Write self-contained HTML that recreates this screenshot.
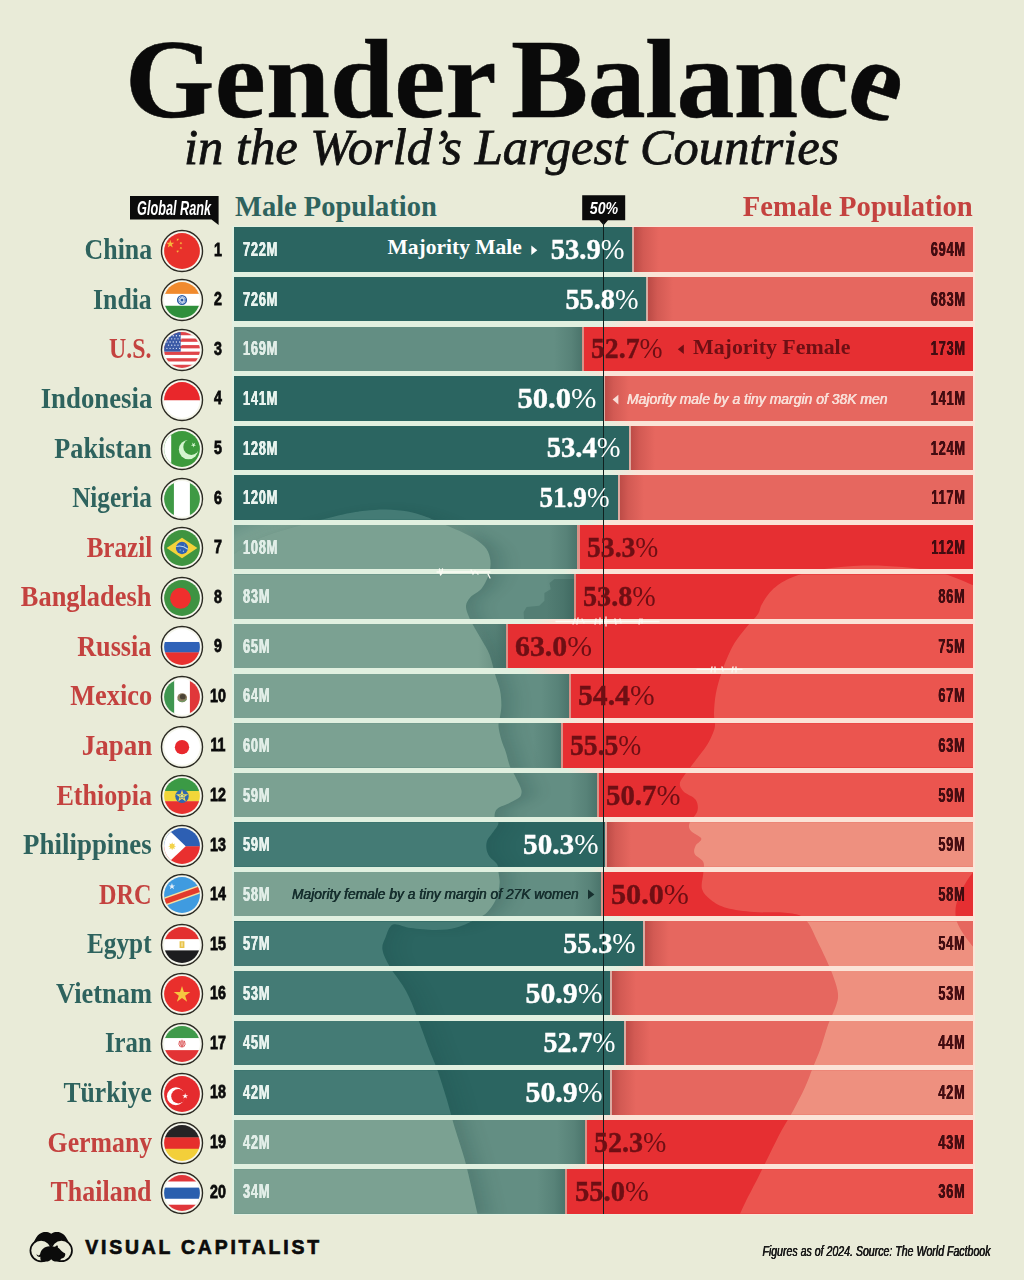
<!DOCTYPE html>
<html lang="en"><head><meta charset="utf-8"><title>Gender Balance in the World's Largest Countries</title>
<style>
html,body{margin:0;padding:0;}
body{width:1024px;height:1280px;background:#e9ebd8;position:relative;overflow:hidden;font-family:"Liberation Serif",serif;font-weight:700;}
.t{position:absolute;white-space:nowrap;line-height:1;}
.b{position:absolute;}
svg{position:absolute;left:0;top:0;overflow:visible;}
.pc{font-weight:400;-webkit-text-stroke:0;}
.v{text-shadow:.22px 0 0 currentColor,-.22px 0 0 currentColor;letter-spacing:1.2px;}
.n{text-shadow:.3px 0 0 currentColor,-.3px 0 0 currentColor;}
.s{font-family:"Liberation Sans",sans-serif;}
</style></head><body>

<div class="t" style="left:125.2px;top:22px;font-size:113px;color:#0a0a0a;-webkit-text-stroke:0.5px #0a0a0a;letter-spacing:0.2px;transform-origin:0 50%;transform:scaleX(1.018);">Gender</div>
<div class="t" style="left:510.9px;top:22px;font-size:113px;color:#0a0a0a;-webkit-text-stroke:0.5px #0a0a0a;letter-spacing:-0.6px;transform-origin:0 50%;transform:scaleX(1.025);">Balanc<span style="display:inline-block;transform:translate(-1.8px,0px) rotate(19deg);transform-origin:50% 68%;">e</span></div>
<div class="t" style="top:121.69px;font-size:51px;color:#111;font-weight:400;font-style:italic;left:183.60px;transform-origin:0 50%;transform:scaleX(0.991);-webkit-text-stroke:.8px #111;">in the World’s Largest Countries</div>
<div class="t" style="top:193.33px;font-size:28.5px;color:#2e635e;left:235.00px;transform-origin:0 50%;">Male Population</div>
<div class="t" style="top:193.43px;font-size:28.5px;color:#c4423f;right:51.00px;transform-origin:100% 50%;transform:scaleX(1.005);">Female Population</div>
<svg width="1024" height="1280" viewBox="0 0 1024 1280"><path d="M130 196H218.6V225L211.5 219.5H130Z" fill="#0b0b0b"/><path d="M582.2 195.2H625.2V220.2H608L603.6 225.2L599.2 220.2H582.2Z" fill="#0b0b0b"/></svg>
<div class="t s" style="top:198.79px;font-size:19.5px;color:#fff;font-style:italic;left:-26.10px;width:400px;text-align:center;transform-origin:50% 50%;transform:scaleX(0.65);">Global Rank</div>
<div class="t s" style="top:199.83px;font-size:16.5px;color:#fff;font-style:italic;left:403.70px;width:400px;text-align:center;transform-origin:50% 50%;transform:scaleX(0.86);">50%</div>
<div class="b" style="left:232.4px;top:225.8px;width:742.9px;height:989.58px;background:linear-gradient(90deg,#e3f1e2 0,#e3f1e2 50%,#fbe6da 53%,#fbe6da 100%);"></div>
<div class="b" style="left:234.0px;top:227.40px;width:398.59px;height:44.45px;background:#2b6561;"></div>
<div class="b" style="left:632.59px;top:227.40px;width:340.91px;height:44.45px;background:#e6675f;"></div>
<div class="b" style="left:234.0px;top:276.98px;width:412.64px;height:44.45px;background:#2b6561;"></div>
<div class="b" style="left:646.64px;top:276.98px;width:326.86px;height:44.45px;background:#e6675f;"></div>
<div class="b" style="left:234.0px;top:326.55px;width:349.78px;height:44.45px;background:#638e83;"></div>
<div class="b" style="left:583.78px;top:326.55px;width:389.72px;height:44.45px;background:#e62f32;"></div>
<div class="b" style="left:234.0px;top:376.12px;width:369.20px;height:44.45px;background:#2b6561;"></div>
<div class="b" style="left:603.20px;top:376.12px;width:370.30px;height:44.45px;background:#e6675f;"></div>
<div class="b" style="left:234.0px;top:425.70px;width:394.89px;height:44.45px;background:#2b6561;"></div>
<div class="b" style="left:628.89px;top:425.70px;width:344.61px;height:44.45px;background:#e6675f;"></div>
<div class="b" style="left:234.0px;top:475.27px;width:383.80px;height:44.45px;background:#2b6561;"></div>
<div class="b" style="left:617.80px;top:475.27px;width:355.70px;height:44.45px;background:#e6675f;"></div>
<div class="b" style="left:234.0px;top:524.85px;width:345.35px;height:44.45px;background:#638e83;"></div>
<div class="b" style="left:579.35px;top:524.85px;width:394.15px;height:44.45px;background:#e62f32;"></div>
<div class="b" style="left:234.0px;top:574.43px;width:341.65px;height:44.45px;background:#638e83;"></div>
<div class="b" style="left:575.65px;top:574.43px;width:397.85px;height:44.45px;background:#e62f32;"></div>
<div class="b" style="left:234.0px;top:624.00px;width:273.62px;height:44.45px;background:#638e83;"></div>
<div class="b" style="left:507.62px;top:624.00px;width:465.88px;height:44.45px;background:#e62f32;"></div>
<div class="b" style="left:234.0px;top:673.58px;width:337.21px;height:44.45px;background:#638e83;"></div>
<div class="b" style="left:571.21px;top:673.58px;width:402.29px;height:44.45px;background:#e62f32;"></div>
<div class="b" style="left:234.0px;top:723.15px;width:329.08px;height:44.45px;background:#638e83;"></div>
<div class="b" style="left:563.08px;top:723.15px;width:410.42px;height:44.45px;background:#e62f32;"></div>
<div class="b" style="left:234.0px;top:772.73px;width:364.57px;height:44.45px;background:#638e83;"></div>
<div class="b" style="left:598.57px;top:772.73px;width:374.93px;height:44.45px;background:#e62f32;"></div>
<div class="b" style="left:234.0px;top:822.30px;width:370.90px;height:44.45px;background:#2b6561;"></div>
<div class="b" style="left:604.90px;top:822.30px;width:368.60px;height:44.45px;background:#e6675f;"></div>
<div class="b" style="left:234.0px;top:871.88px;width:369.20px;height:44.45px;background:#638e83;"></div>
<div class="b" style="left:603.20px;top:871.88px;width:370.30px;height:44.45px;background:#e62f32;"></div>
<div class="b" style="left:234.0px;top:921.45px;width:408.94px;height:44.45px;background:#2b6561;"></div>
<div class="b" style="left:642.94px;top:921.45px;width:330.56px;height:44.45px;background:#e6675f;"></div>
<div class="b" style="left:234.0px;top:971.02px;width:376.41px;height:44.45px;background:#2b6561;"></div>
<div class="b" style="left:610.41px;top:971.02px;width:363.09px;height:44.45px;background:#e6675f;"></div>
<div class="b" style="left:234.0px;top:1020.60px;width:389.72px;height:44.45px;background:#2b6561;"></div>
<div class="b" style="left:623.72px;top:1020.60px;width:349.78px;height:44.45px;background:#e6675f;"></div>
<div class="b" style="left:234.0px;top:1070.18px;width:376.41px;height:44.45px;background:#2b6561;"></div>
<div class="b" style="left:610.41px;top:1070.18px;width:363.09px;height:44.45px;background:#e6675f;"></div>
<div class="b" style="left:234.0px;top:1119.75px;width:352.74px;height:44.45px;background:#638e83;"></div>
<div class="b" style="left:586.74px;top:1119.75px;width:386.76px;height:44.45px;background:#e62f32;"></div>
<div class="b" style="left:234.0px;top:1169.33px;width:332.77px;height:44.45px;background:#638e83;"></div>
<div class="b" style="left:566.77px;top:1169.33px;width:406.73px;height:44.45px;background:#e62f32;"></div>
<svg width="1024" height="1280" viewBox="0 0 1024 1280"><defs><clipPath id="fc"><circle r="17.9"/></clipPath><clipPath id="mD"><rect x="234.0" y="227.40" width="398.59" height="44.45"/><rect x="234.0" y="276.98" width="412.64" height="44.45"/><rect x="234.0" y="376.12" width="369.20" height="44.45"/><rect x="234.0" y="425.70" width="394.89" height="44.45"/><rect x="234.0" y="475.27" width="383.80" height="44.45"/><rect x="234.0" y="822.30" width="370.90" height="44.45"/><rect x="234.0" y="921.45" width="408.94" height="44.45"/><rect x="234.0" y="971.02" width="376.41" height="44.45"/><rect x="234.0" y="1020.60" width="389.72" height="44.45"/><rect x="234.0" y="1070.18" width="376.41" height="44.45"/></clipPath><clipPath id="mL"><rect x="234.0" y="326.55" width="349.78" height="44.45"/><rect x="234.0" y="524.85" width="345.35" height="44.45"/><rect x="234.0" y="574.43" width="341.65" height="44.45"/><rect x="234.0" y="624.00" width="273.62" height="44.45"/><rect x="234.0" y="673.58" width="337.21" height="44.45"/><rect x="234.0" y="723.15" width="329.08" height="44.45"/><rect x="234.0" y="772.73" width="364.57" height="44.45"/><rect x="234.0" y="871.88" width="369.20" height="44.45"/><rect x="234.0" y="1119.75" width="352.74" height="44.45"/><rect x="234.0" y="1169.33" width="332.77" height="44.45"/></clipPath><clipPath id="mA"><rect x="234.0" y="227.40" width="398.59" height="44.45"/><rect x="234.0" y="276.98" width="412.64" height="44.45"/><rect x="234.0" y="376.12" width="369.20" height="44.45"/><rect x="234.0" y="425.70" width="394.89" height="44.45"/><rect x="234.0" y="475.27" width="383.80" height="44.45"/><rect x="234.0" y="822.30" width="370.90" height="44.45"/><rect x="234.0" y="921.45" width="408.94" height="44.45"/><rect x="234.0" y="971.02" width="376.41" height="44.45"/><rect x="234.0" y="1020.60" width="389.72" height="44.45"/><rect x="234.0" y="1070.18" width="376.41" height="44.45"/><rect x="234.0" y="326.55" width="349.78" height="44.45"/><rect x="234.0" y="524.85" width="345.35" height="44.45"/><rect x="234.0" y="574.43" width="341.65" height="44.45"/><rect x="234.0" y="624.00" width="273.62" height="44.45"/><rect x="234.0" y="673.58" width="337.21" height="44.45"/><rect x="234.0" y="723.15" width="329.08" height="44.45"/><rect x="234.0" y="772.73" width="364.57" height="44.45"/><rect x="234.0" y="871.88" width="369.20" height="44.45"/><rect x="234.0" y="1119.75" width="352.74" height="44.45"/><rect x="234.0" y="1169.33" width="332.77" height="44.45"/></clipPath><clipPath id="fS"><rect x="632.59" y="227.40" width="340.91" height="44.45"/><rect x="646.64" y="276.98" width="326.86" height="44.45"/><rect x="603.20" y="376.12" width="370.30" height="44.45"/><rect x="628.89" y="425.70" width="344.61" height="44.45"/><rect x="617.80" y="475.27" width="355.70" height="44.45"/><rect x="604.90" y="822.30" width="368.60" height="44.45"/><rect x="642.94" y="921.45" width="330.56" height="44.45"/><rect x="610.41" y="971.02" width="363.09" height="44.45"/><rect x="623.72" y="1020.60" width="349.78" height="44.45"/><rect x="610.41" y="1070.18" width="363.09" height="44.45"/></clipPath><clipPath id="fB"><rect x="583.78" y="326.55" width="389.72" height="44.45"/><rect x="579.35" y="524.85" width="394.15" height="44.45"/><rect x="575.65" y="574.43" width="397.85" height="44.45"/><rect x="507.62" y="624.00" width="465.88" height="44.45"/><rect x="571.21" y="673.58" width="402.29" height="44.45"/><rect x="563.08" y="723.15" width="410.42" height="44.45"/><rect x="598.57" y="772.73" width="374.93" height="44.45"/><rect x="603.20" y="871.88" width="370.30" height="44.45"/><rect x="586.74" y="1119.75" width="386.76" height="44.45"/><rect x="566.77" y="1169.33" width="406.73" height="44.45"/></clipPath><path id="ms" d="M234.0 554.0C238.2 551.4 248.4 543.3 259.0 538.6C269.6 533.9 283.5 530.0 297.5 526.0C311.5 522.0 331.8 517.0 343.0 514.5C354.2 512.0 357.8 511.7 365.0 510.8C372.2 509.9 378.8 509.3 386.0 509.4C393.2 509.5 401.7 510.4 408.0 511.5C414.3 512.6 418.5 514.1 424.0 516.0C429.5 517.9 433.7 519.8 441.0 523.0C448.3 526.2 460.8 531.2 468.0 535.0C475.2 538.8 480.3 542.2 484.0 546.0C487.7 549.8 489.1 553.7 490.0 558.0C490.9 562.3 490.8 567.0 489.5 572.0C488.2 577.0 485.1 583.8 482.0 588.0C478.9 592.2 473.3 594.0 470.6 597.0C467.9 600.0 466.3 602.7 466.0 606.0C465.7 609.3 467.7 613.7 469.0 617.0C470.3 620.3 471.4 622.1 473.6 626.0C475.8 629.9 479.3 635.8 482.0 640.6C484.7 645.4 487.4 649.1 489.7 655.0C491.9 660.9 493.8 670.0 495.5 675.8C497.2 681.6 499.0 685.1 500.0 690.0C501.0 694.9 501.4 700.5 501.4 705.0C501.4 709.5 500.5 713.5 500.0 717.0C499.5 720.5 498.3 722.2 498.5 726.0C498.7 729.8 500.2 735.7 501.4 740.0C502.6 744.3 504.4 747.6 505.8 752.0C507.2 756.4 508.5 762.8 510.0 766.6C511.5 770.4 512.9 771.6 514.6 775.0C516.3 778.4 519.2 784.0 520.4 787.0C521.5 790.0 521.8 791.2 521.5 793.0C521.2 794.8 521.1 796.2 518.7 798.0C516.3 799.8 510.9 802.2 507.3 804.0C503.7 805.8 499.1 806.8 497.0 809.0C494.9 811.2 494.4 814.6 494.6 817.0C494.8 819.4 498.8 820.7 498.4 823.5C498.0 826.3 493.9 830.7 492.0 833.6C490.1 836.5 487.9 838.4 487.0 841.0C486.1 843.6 486.1 846.4 486.5 849.0C486.9 851.6 487.8 854.0 489.5 856.5C491.2 859.0 495.5 861.5 497.0 864.0C498.5 866.5 497.9 868.7 498.4 871.7C498.8 874.7 499.7 878.6 499.7 882.0C499.7 885.4 499.2 888.7 498.4 892.0C497.5 895.3 496.5 898.6 494.6 902.0C492.7 905.4 490.0 909.6 487.0 912.4C484.0 915.2 481.9 916.2 476.8 918.7C471.7 921.2 463.3 925.7 456.5 927.6C449.7 929.5 443.6 929.9 436.0 930.0C428.4 930.1 418.0 928.9 410.8 928.0C403.6 927.1 397.2 922.9 393.0 924.5C388.8 926.1 387.1 933.5 385.4 937.8C383.6 942.0 381.7 945.1 382.5 950.0C383.3 954.9 386.1 960.2 390.0 967.0C393.9 973.8 401.4 982.5 406.0 991.0C410.6 999.5 413.8 1008.3 417.6 1018.0C421.4 1027.7 425.8 1040.5 429.0 1049.0C432.2 1057.5 434.0 1060.5 437.0 1069.0C440.0 1077.5 444.1 1090.2 447.0 1100.0C449.9 1109.8 451.8 1117.7 454.7 1127.5C457.6 1137.3 461.6 1148.4 464.5 1158.8C467.4 1169.2 469.8 1180.5 472.0 1190.0C474.2 1199.5 477.0 1211.7 478.0 1216.0L234 1216Z"/><path id="fs" d="M975.0 586.0C969.4 583.8 953.7 576.2 941.6 573.0C929.5 569.8 915.5 568.2 902.5 567.0C889.5 565.8 876.4 565.2 863.4 565.5C850.4 565.8 836.1 567.1 824.4 569.0C812.7 570.9 801.5 573.7 793.0 577.0C784.5 580.3 778.8 584.1 773.6 588.6C768.4 593.1 764.6 599.8 762.0 604.0C759.4 608.2 760.7 610.0 758.0 614.0C755.3 618.0 749.9 622.9 746.0 627.7C742.1 632.5 737.7 637.8 734.5 643.0C731.3 648.2 729.0 653.8 726.7 659.0C724.4 664.2 722.7 668.7 720.9 674.5C719.1 680.3 716.9 687.5 715.8 694.0C714.6 700.5 714.1 708.4 714.0 713.6C713.9 718.8 715.2 721.8 715.0 725.0C714.8 728.2 714.3 729.7 713.0 733.0C711.7 736.3 709.9 740.4 707.0 745.0C704.1 749.6 699.4 755.3 695.5 760.5C691.6 765.7 686.4 772.1 683.8 776.0C681.2 779.9 679.8 781.4 679.8 784.0C679.8 786.6 681.2 789.1 683.8 791.7C686.4 794.3 693.2 796.3 695.5 799.5C697.8 802.7 698.4 807.1 697.4 811.0C696.4 814.9 690.7 819.7 689.6 823.0C688.5 826.3 688.8 828.2 690.8 830.8C692.8 833.4 700.5 836.1 701.3 838.6C702.1 841.1 696.6 843.4 695.5 846.0C694.4 848.6 693.4 851.3 694.7 854.0C696.0 856.7 701.9 858.8 703.3 862.0C704.7 865.2 703.5 868.5 703.3 873.0C703.1 877.5 700.7 884.5 702.0 889.0C703.3 893.5 706.9 896.8 711.0 900.0C715.1 903.2 719.5 906.0 726.7 908.0C733.9 910.0 744.3 911.2 754.0 912.0C763.7 912.8 777.2 912.1 785.0 912.8C792.8 913.5 797.0 914.2 801.0 916.0C805.0 917.8 806.1 919.9 808.8 923.8C811.4 927.6 813.7 933.5 816.6 939.4C819.5 945.3 823.1 952.5 826.0 959.0C828.9 965.5 832.0 972.6 834.0 978.4C836.0 984.2 837.7 989.4 838.0 994.0C838.3 998.6 837.7 1000.6 836.0 1005.8C834.3 1011.0 830.6 1017.8 828.0 1025.0C825.4 1032.2 823.0 1041.6 820.5 1048.8C818.0 1055.9 815.3 1061.5 812.7 1068.0C810.1 1074.5 808.1 1080.6 804.8 1087.8C801.5 1095.0 796.9 1103.8 793.0 1111.0C789.1 1118.2 785.3 1123.6 781.4 1130.8C777.5 1138.0 773.6 1146.2 769.7 1154.0C765.8 1161.8 762.0 1169.9 758.0 1177.7C754.0 1185.5 749.2 1194.6 746.0 1201.0C742.8 1207.4 740.2 1213.5 739.0 1216.0L975 1216L975 949C968 941 960 930 957 922C954.5 914 955 906 958.5 897C962 888 968 878 975 870Z"/><filter id="bl" x="-30%" y="-10%" width="160%" height="120%"><feGaussianBlur stdDeviation="11 4"/></filter><filter id="bl2" x="-30%" y="-10%" width="160%" height="120%"><feGaussianBlur stdDeviation="9"/></filter><mask id="mm" maskUnits="userSpaceOnUse" x="200" y="200" width="500" height="1040"><rect x="200" y="200" width="500" height="1040" fill="#fff"/><use href="#ms" fill="#000"/></mask></defs><g clip-path="url(#mL)"><g mask="url(#mm)"><use href="#ms" fill="#0c3632" opacity="0.22" filter="url(#bl)" transform="translate(9 0)"/></g></g><g clip-path="url(#mD)"><g mask="url(#mm)"><use href="#ms" fill="#0c3632" opacity="0.13" filter="url(#bl)" transform="translate(9 0)"/></g></g><g clip-path="url(#mL)"><g mask="url(#mm)"><use href="#ms" fill="#dbf2d3" opacity=".2" filter="url(#bl2)" transform="translate(-16 -12)"/></g></g><g clip-path="url(#mD)"><use href="#ms" fill="#a8d8ca" opacity="0.2"/></g><g clip-path="url(#mL)"><use href="#ms" fill="#dbf2d3" opacity="0.2"/></g><g clip-path="url(#mL)"><path d="M575.5 579H554.5L549.5 583L550.7 589.3L544.4 593V600.7L539.3 605.8L526.6 607L523.6 612L524 619H575.5Z" fill="#143f3b" opacity=".2"/></g><g clip-path="url(#fS)"><use href="#fs" fill="#ffe1be" opacity="0.34"/></g><g clip-path="url(#fB)"><use href="#fs" fill="#ffe1be" opacity="0.21"/></g></svg>
<div class="b" style="left:632.59px;top:227.40px;width:26px;height:44.45px;background:linear-gradient(90deg,rgba(120,30,30,.42),rgba(120,30,30,.18) 40%,rgba(120,30,30,0));"></div>
<div class="b" style="left:632.39px;top:227.40px;width:2px;height:44.45px;background:rgba(226,188,178,.85);"></div>
<div class="b" style="left:234.0px;top:271.85px;width:739.5px;height:5.12px;background:linear-gradient(90deg,#e1f0e0 0,#e1f0e0 391.6px,#fbe3d7 419.6px,#fbe3d7 100%);"></div>
<div class="b" style="left:646.64px;top:276.98px;width:26px;height:44.45px;background:linear-gradient(90deg,rgba(120,30,30,.42),rgba(120,30,30,.18) 40%,rgba(120,30,30,0));"></div>
<div class="b" style="left:646.44px;top:276.98px;width:2px;height:44.45px;background:rgba(226,188,178,.85);"></div>
<div class="b" style="left:234.0px;top:321.43px;width:739.5px;height:5.12px;background:linear-gradient(90deg,#e1f0e0 0,#e1f0e0 367.2px,#fbe3d7 395.2px,#fbe3d7 100%);"></div>
<div class="b" style="left:553.78px;top:326.55px;width:30px;height:44.45px;background:linear-gradient(270deg,rgba(20,60,55,.34),rgba(20,60,55,.14) 42%,rgba(20,60,55,0));"></div>
<div class="b" style="left:581.88px;top:326.55px;width:2.2px;height:44.45px;background:rgba(233,150,140,.9);"></div>
<div class="b" style="left:234.0px;top:371.00px;width:739.5px;height:5.12px;background:linear-gradient(90deg,#e1f0e0 0,#e1f0e0 345.5px,#fbe3d7 373.5px,#fbe3d7 100%);"></div>
<div class="b" style="left:603.20px;top:376.12px;width:26px;height:44.45px;background:linear-gradient(90deg,rgba(120,30,30,.42),rgba(120,30,30,.18) 40%,rgba(120,30,30,0));"></div>
<div class="b" style="left:603.00px;top:376.12px;width:2px;height:44.45px;background:rgba(226,188,178,.85);"></div>
<div class="b" style="left:234.0px;top:420.57px;width:739.5px;height:5.12px;background:linear-gradient(90deg,#e1f0e0 0,#e1f0e0 368.0px,#fbe3d7 396.0px,#fbe3d7 100%);"></div>
<div class="b" style="left:628.89px;top:425.70px;width:26px;height:44.45px;background:linear-gradient(90deg,rgba(120,30,30,.42),rgba(120,30,30,.18) 40%,rgba(120,30,30,0));"></div>
<div class="b" style="left:628.69px;top:425.70px;width:2px;height:44.45px;background:rgba(226,188,178,.85);"></div>
<div class="b" style="left:234.0px;top:470.15px;width:739.5px;height:5.12px;background:linear-gradient(90deg,#e1f0e0 0,#e1f0e0 375.3px,#fbe3d7 403.3px,#fbe3d7 100%);"></div>
<div class="b" style="left:617.80px;top:475.27px;width:26px;height:44.45px;background:linear-gradient(90deg,rgba(120,30,30,.42),rgba(120,30,30,.18) 40%,rgba(120,30,30,0));"></div>
<div class="b" style="left:617.60px;top:475.27px;width:2px;height:44.45px;background:rgba(226,188,178,.85);"></div>
<div class="b" style="left:234.0px;top:519.73px;width:739.5px;height:5.12px;background:linear-gradient(90deg,#e1f0e0 0,#e1f0e0 350.6px,#fbe3d7 378.6px,#fbe3d7 100%);"></div>
<div class="b" style="left:549.35px;top:524.85px;width:30px;height:44.45px;background:linear-gradient(270deg,rgba(20,60,55,.34),rgba(20,60,55,.14) 42%,rgba(20,60,55,0));"></div>
<div class="b" style="left:577.45px;top:524.85px;width:2.2px;height:44.45px;background:rgba(233,150,140,.9);"></div>
<div class="b" style="left:234.0px;top:569.30px;width:739.5px;height:5.12px;background:linear-gradient(90deg,#e1f0e0 0,#e1f0e0 329.5px,#fbe3d7 357.5px,#fbe3d7 100%);"></div>
<div class="b" style="left:545.65px;top:574.43px;width:30px;height:44.45px;background:linear-gradient(270deg,rgba(20,60,55,.34),rgba(20,60,55,.14) 42%,rgba(20,60,55,0));"></div>
<div class="b" style="left:573.75px;top:574.43px;width:2.2px;height:44.45px;background:rgba(233,150,140,.9);"></div>
<div class="b" style="left:234.0px;top:618.88px;width:739.5px;height:5.12px;background:linear-gradient(90deg,#e1f0e0 0,#e1f0e0 293.6px,#fbe3d7 321.6px,#fbe3d7 100%);"></div>
<div class="b" style="left:477.62px;top:624.00px;width:30px;height:44.45px;background:linear-gradient(270deg,rgba(20,60,55,.34),rgba(20,60,55,.14) 42%,rgba(20,60,55,0));"></div>
<div class="b" style="left:505.72px;top:624.00px;width:2.2px;height:44.45px;background:rgba(233,150,140,.9);"></div>
<div class="b" style="left:234.0px;top:668.45px;width:739.5px;height:5.12px;background:linear-gradient(90deg,#e1f0e0 0,#e1f0e0 291.4px,#fbe3d7 319.4px,#fbe3d7 100%);"></div>
<div class="b" style="left:541.21px;top:673.58px;width:30px;height:44.45px;background:linear-gradient(270deg,rgba(20,60,55,.34),rgba(20,60,55,.14) 42%,rgba(20,60,55,0));"></div>
<div class="b" style="left:569.31px;top:673.58px;width:2.2px;height:44.45px;background:rgba(233,150,140,.9);"></div>
<div class="b" style="left:234.0px;top:718.03px;width:739.5px;height:5.12px;background:linear-gradient(90deg,#e1f0e0 0,#e1f0e0 319.1px,#fbe3d7 347.1px,#fbe3d7 100%);"></div>
<div class="b" style="left:533.08px;top:723.15px;width:30px;height:44.45px;background:linear-gradient(270deg,rgba(20,60,55,.34),rgba(20,60,55,.14) 42%,rgba(20,60,55,0));"></div>
<div class="b" style="left:561.18px;top:723.15px;width:2.2px;height:44.45px;background:rgba(233,150,140,.9);"></div>
<div class="b" style="left:234.0px;top:767.60px;width:739.5px;height:5.12px;background:linear-gradient(90deg,#e1f0e0 0,#e1f0e0 332.8px,#fbe3d7 360.8px,#fbe3d7 100%);"></div>
<div class="b" style="left:568.57px;top:772.73px;width:30px;height:44.45px;background:linear-gradient(270deg,rgba(20,60,55,.34),rgba(20,60,55,.14) 42%,rgba(20,60,55,0));"></div>
<div class="b" style="left:596.67px;top:772.73px;width:2.2px;height:44.45px;background:rgba(233,150,140,.9);"></div>
<div class="b" style="left:234.0px;top:817.18px;width:739.5px;height:5.12px;background:linear-gradient(90deg,#e1f0e0 0,#e1f0e0 353.7px,#fbe3d7 381.7px,#fbe3d7 100%);"></div>
<div class="b" style="left:604.90px;top:822.30px;width:26px;height:44.45px;background:linear-gradient(90deg,rgba(120,30,30,.42),rgba(120,30,30,.18) 40%,rgba(120,30,30,0));"></div>
<div class="b" style="left:604.70px;top:822.30px;width:2px;height:44.45px;background:rgba(226,188,178,.85);"></div>
<div class="b" style="left:234.0px;top:866.75px;width:739.5px;height:5.12px;background:linear-gradient(90deg,#e1f0e0 0,#e1f0e0 356.0px,#fbe3d7 384.0px,#fbe3d7 100%);"></div>
<div class="b" style="left:573.20px;top:871.88px;width:30px;height:44.45px;background:linear-gradient(270deg,rgba(20,60,55,.34),rgba(20,60,55,.14) 42%,rgba(20,60,55,0));"></div>
<div class="b" style="left:601.30px;top:871.88px;width:2.2px;height:44.45px;background:rgba(233,150,140,.9);"></div>
<div class="b" style="left:234.0px;top:916.33px;width:739.5px;height:5.12px;background:linear-gradient(90deg,#e1f0e0 0,#e1f0e0 375.1px,#fbe3d7 403.1px,#fbe3d7 100%);"></div>
<div class="b" style="left:642.94px;top:921.45px;width:26px;height:44.45px;background:linear-gradient(90deg,rgba(120,30,30,.42),rgba(120,30,30,.18) 40%,rgba(120,30,30,0));"></div>
<div class="b" style="left:642.74px;top:921.45px;width:2px;height:44.45px;background:rgba(226,188,178,.85);"></div>
<div class="b" style="left:234.0px;top:965.90px;width:739.5px;height:5.12px;background:linear-gradient(90deg,#e1f0e0 0,#e1f0e0 378.7px,#fbe3d7 406.7px,#fbe3d7 100%);"></div>
<div class="b" style="left:610.41px;top:971.02px;width:26px;height:44.45px;background:linear-gradient(90deg,rgba(120,30,30,.42),rgba(120,30,30,.18) 40%,rgba(120,30,30,0));"></div>
<div class="b" style="left:610.21px;top:971.02px;width:2px;height:44.45px;background:rgba(226,188,178,.85);"></div>
<div class="b" style="left:234.0px;top:1015.48px;width:739.5px;height:5.12px;background:linear-gradient(90deg,#e1f0e0 0,#e1f0e0 369.1px,#fbe3d7 397.1px,#fbe3d7 100%);"></div>
<div class="b" style="left:623.72px;top:1020.60px;width:26px;height:44.45px;background:linear-gradient(90deg,rgba(120,30,30,.42),rgba(120,30,30,.18) 40%,rgba(120,30,30,0));"></div>
<div class="b" style="left:623.52px;top:1020.60px;width:2px;height:44.45px;background:rgba(226,188,178,.85);"></div>
<div class="b" style="left:234.0px;top:1065.05px;width:739.5px;height:5.12px;background:linear-gradient(90deg,#e1f0e0 0,#e1f0e0 369.1px,#fbe3d7 397.1px,#fbe3d7 100%);"></div>
<div class="b" style="left:610.41px;top:1070.18px;width:26px;height:44.45px;background:linear-gradient(90deg,rgba(120,30,30,.42),rgba(120,30,30,.18) 40%,rgba(120,30,30,0));"></div>
<div class="b" style="left:610.21px;top:1070.18px;width:2px;height:44.45px;background:rgba(226,188,178,.85);"></div>
<div class="b" style="left:234.0px;top:1114.63px;width:739.5px;height:5.12px;background:linear-gradient(90deg,#e1f0e0 0,#e1f0e0 350.6px,#fbe3d7 378.6px,#fbe3d7 100%);"></div>
<div class="b" style="left:556.74px;top:1119.75px;width:30px;height:44.45px;background:linear-gradient(270deg,rgba(20,60,55,.34),rgba(20,60,55,.14) 42%,rgba(20,60,55,0));"></div>
<div class="b" style="left:584.84px;top:1119.75px;width:2.2px;height:44.45px;background:rgba(233,150,140,.9);"></div>
<div class="b" style="left:234.0px;top:1164.20px;width:739.5px;height:5.12px;background:linear-gradient(90deg,#e1f0e0 0,#e1f0e0 328.8px,#fbe3d7 356.8px,#fbe3d7 100%);"></div>
<div class="b" style="left:536.77px;top:1169.33px;width:30px;height:44.45px;background:linear-gradient(270deg,rgba(20,60,55,.34),rgba(20,60,55,.14) 42%,rgba(20,60,55,0));"></div>
<div class="b" style="left:564.88px;top:1169.33px;width:2.2px;height:44.45px;background:rgba(233,150,140,.9);"></div>
<svg width="1024" height="1280" viewBox="0 0 1024 1280"><g fill="none" stroke="#fbfbf4" stroke-width="1.3" stroke-linecap="round"><path d="M437 572H490M439.5 569l1 6m2-6l-1 5M471 570l2 4l2-3l3 3M488 574l2 4"/><path d="M556 621.5H659M575 619l-2 5m5-6l-1 6m5-5l2 4M596 619l-1 5m5-6v6M606 617v9M615 619l1 5m4-5l1 4M640 619l-1 5m3-5v4"/><path d="M697 669.4H742M712 667l-1 5m4-5v5M722 667l1 4M733 667l-1 5m4-5v5"/></g></svg>
<div class="b" style="left:602.9px;top:222px;width:1.3px;height:992px;background:#10201f;"></div>
<div class="t" style="top:236.22px;font-size:28.4px;color:#2e635e;right:872.10px;transform-origin:100% 50%;transform:scaleX(0.9116);">China</div>
<svg style="left:159.00px;top:227.82px;" width="46" height="46" viewBox="-23 -23 46 46"><circle r="20.5" fill="#f5f6ec"/><g clip-path="url(#fc)"><g transform="scale(.93)"><rect x="-21" y="-21" width="42" height="42" fill="#e8312b"/><path d="M-12.60,-12.00L-11.57,-8.82L-8.23,-8.82L-10.93,-6.86L-9.90,-3.68L-12.60,-5.64L-15.30,-3.68L-14.27,-6.86L-16.97,-8.82L-13.63,-8.82Z" fill="#f6b73c"/><path d="M-3.75,-13.67L-4.01,-12.46L-2.94,-11.85L-4.17,-11.72L-4.42,-10.51L-4.92,-11.64L-6.15,-11.51L-5.24,-12.34L-5.74,-13.46L-4.67,-12.85Z" fill="#f6b73c"/><path d="M-0.35,-9.87L-0.61,-8.66L0.46,-8.05L-0.77,-7.92L-1.02,-6.71L-1.52,-7.84L-2.75,-7.71L-1.84,-8.54L-2.34,-9.66L-1.27,-9.05Z" fill="#f6b73c"/><path d="M-0.35,-4.67L-0.61,-3.46L0.46,-2.85L-0.77,-2.72L-1.02,-1.51L-1.52,-2.64L-2.75,-2.51L-1.84,-3.34L-2.34,-4.46L-1.27,-3.85Z" fill="#f6b73c"/><path d="M-3.75,-1.07L-4.01,0.14L-2.94,0.75L-4.17,0.88L-4.42,2.09L-4.92,0.96L-6.15,1.09L-5.24,0.26L-5.74,-0.86L-4.67,-0.25Z" fill="#f6b73c"/></g></g><circle r="20.5" fill="none" stroke="#2b2a22" stroke-width="1.4"/></svg>
<div class="t s" style="top:240.66px;font-size:18.5px;color:#0b0b0b;left:17.50px;width:400px;text-align:center;transform-origin:50% 50%;transform:scaleX(0.77);-webkit-text-stroke:.8px #0b0b0b;">1</div>
<div class="t v s" style="top:239.19px;font-size:20px;color:#e9f3ef;left:243.00px;transform-origin:0 50%;transform:scaleX(0.64);">722M</div>
<div class="t v s" style="top:239.19px;font-size:20px;color:#420c11;right:58.60px;transform-origin:100% 50%;transform:scaleX(0.64);">694M</div>
<div class="t" style="top:234.18px;font-size:30px;color:#fff;right:399.60px;transform-origin:100% 50%;transform:scaleX(0.9514);-webkit-text-stroke:.45px #fff;">53.9<span class="pc">%</span></div>
<div class="t" style="top:285.79px;font-size:28.4px;color:#2e635e;right:872.10px;transform-origin:100% 50%;transform:scaleX(0.9062);">India</div>
<svg style="left:159.00px;top:277.40px;" width="46" height="46" viewBox="-23 -23 46 46"><circle r="20.5" fill="#f5f6ec"/><g clip-path="url(#fc)"><g transform="scale(.93)"><rect x="-20" y="-20.00" width="40" height="13.70" fill="#f08a2e"/><rect x="-20" y="-6.60" width="40" height="13.10" fill="#ffffff"/><rect x="-20" y="6.20" width="40" height="14.10" fill="#2f8f3c"/><circle r="4.7" fill="#ffffff" stroke="#2a5aa6" stroke-width="1.6"/><circle r="1.7" fill="#2a5aa6"/><circle r="3.2" fill="none" stroke="#4f7bbf" stroke-width="2.2" stroke-dasharray="0.8 0.77"/></g></g><circle r="20.5" fill="none" stroke="#2b2a22" stroke-width="1.4"/></svg>
<div class="t s" style="top:290.24px;font-size:18.5px;color:#0b0b0b;left:17.50px;width:400px;text-align:center;transform-origin:50% 50%;transform:scaleX(0.77);-webkit-text-stroke:.8px #0b0b0b;">2</div>
<div class="t v s" style="top:288.77px;font-size:20px;color:#e9f3ef;left:243.00px;transform-origin:0 50%;transform:scaleX(0.64);">726M</div>
<div class="t v s" style="top:288.77px;font-size:20px;color:#420c11;right:58.60px;transform-origin:100% 50%;transform:scaleX(0.64);">683M</div>
<div class="t" style="top:283.75px;font-size:30px;color:#fff;right:385.30px;transform-origin:100% 50%;transform:scaleX(0.9422);-webkit-text-stroke:.45px #fff;">55.8<span class="pc">%</span></div>
<div class="t" style="top:335.37px;font-size:28.4px;color:#c4423f;right:872.10px;transform-origin:100% 50%;transform:scaleX(0.8395);">U.S.</div>
<svg style="left:159.00px;top:326.98px;" width="46" height="46" viewBox="-23 -23 46 46"><circle r="20.5" fill="#f5f6ec"/><g clip-path="url(#fc)"><g transform="scale(.93)"><rect x="-21" y="-21" width="42" height="42" fill="#ffffff"/><rect x="-20" y="-19.40" width="40" height="3.53" fill="#e0454a"/><rect x="-20" y="-12.35" width="40" height="3.53" fill="#e0454a"/><rect x="-20" y="-5.29" width="40" height="3.53" fill="#e0454a"/><rect x="-20" y="1.76" width="40" height="3.53" fill="#e0454a"/><rect x="-20" y="8.82" width="40" height="3.53" fill="#e0454a"/><rect x="-20" y="15.87" width="40" height="3.53" fill="#e0454a"/><rect x="-20" y="-20" width="18.6" height="21.76" fill="#3b5aa6"/><circle cx="-16.2" cy="-15.4" r="0.75" fill="#dfe6f5"/><circle cx="-12.8" cy="-15.4" r="0.75" fill="#dfe6f5"/><circle cx="-9.4" cy="-15.4" r="0.75" fill="#dfe6f5"/><circle cx="-6.0" cy="-15.4" r="0.75" fill="#dfe6f5"/><circle cx="-2.6" cy="-15.4" r="0.75" fill="#dfe6f5"/><circle cx="-14.5" cy="-12.0" r="0.75" fill="#dfe6f5"/><circle cx="-11.1" cy="-12.0" r="0.75" fill="#dfe6f5"/><circle cx="-7.7" cy="-12.0" r="0.75" fill="#dfe6f5"/><circle cx="-4.3" cy="-12.0" r="0.75" fill="#dfe6f5"/><circle cx="-0.9" cy="-12.0" r="0.75" fill="#dfe6f5"/><circle cx="-16.2" cy="-8.6" r="0.75" fill="#dfe6f5"/><circle cx="-12.8" cy="-8.6" r="0.75" fill="#dfe6f5"/><circle cx="-9.4" cy="-8.6" r="0.75" fill="#dfe6f5"/><circle cx="-6.0" cy="-8.6" r="0.75" fill="#dfe6f5"/><circle cx="-2.6" cy="-8.6" r="0.75" fill="#dfe6f5"/><circle cx="-14.5" cy="-5.2" r="0.75" fill="#dfe6f5"/><circle cx="-11.1" cy="-5.2" r="0.75" fill="#dfe6f5"/><circle cx="-7.7" cy="-5.2" r="0.75" fill="#dfe6f5"/><circle cx="-4.3" cy="-5.2" r="0.75" fill="#dfe6f5"/><circle cx="-0.9" cy="-5.2" r="0.75" fill="#dfe6f5"/><circle cx="-16.2" cy="-1.8" r="0.75" fill="#dfe6f5"/><circle cx="-12.8" cy="-1.8" r="0.75" fill="#dfe6f5"/><circle cx="-9.4" cy="-1.8" r="0.75" fill="#dfe6f5"/><circle cx="-6.0" cy="-1.8" r="0.75" fill="#dfe6f5"/><circle cx="-2.6" cy="-1.8" r="0.75" fill="#dfe6f5"/></g></g><circle r="20.5" fill="none" stroke="#2b2a22" stroke-width="1.4"/></svg>
<div class="t s" style="top:339.81px;font-size:18.5px;color:#0b0b0b;left:17.50px;width:400px;text-align:center;transform-origin:50% 50%;transform:scaleX(0.77);-webkit-text-stroke:.8px #0b0b0b;">3</div>
<div class="t v s" style="top:338.35px;font-size:20px;color:#e2eee8;left:243.00px;transform-origin:0 50%;transform:scaleX(0.64);">169M</div>
<div class="t v s" style="top:338.35px;font-size:20px;color:#420c11;right:58.60px;transform-origin:100% 50%;transform:scaleX(0.64);">173M</div>
<div class="t" style="top:333.32px;font-size:30px;color:#6e0f14;left:591.00px;transform-origin:0 50%;transform:scaleX(0.9237);-webkit-text-stroke:.45px #6e0f14;">52.7<span class="pc">%</span></div>
<div class="t" style="top:384.94px;font-size:28.4px;color:#2e635e;right:872.10px;transform-origin:100% 50%;transform:scaleX(0.9435);">Indonesia</div>
<svg style="left:159.00px;top:376.55px;" width="46" height="46" viewBox="-23 -23 46 46"><circle r="20.5" fill="#f5f6ec"/><g clip-path="url(#fc)"><g transform="scale(.93)"><rect x="-20" y="-20.00" width="40" height="20.70" fill="#e9272b"/><rect x="-20" y="0.40" width="40" height="19.90" fill="#ffffff"/></g></g><circle r="20.5" fill="none" stroke="#2b2a22" stroke-width="1.4"/></svg>
<div class="t s" style="top:389.39px;font-size:18.5px;color:#0b0b0b;left:17.50px;width:400px;text-align:center;transform-origin:50% 50%;transform:scaleX(0.77);-webkit-text-stroke:.8px #0b0b0b;">4</div>
<div class="t v s" style="top:387.92px;font-size:20px;color:#e9f3ef;left:243.00px;transform-origin:0 50%;transform:scaleX(0.64);">141M</div>
<div class="t v s" style="top:387.92px;font-size:20px;color:#420c11;right:58.60px;transform-origin:100% 50%;transform:scaleX(0.64);">141M</div>
<div class="t" style="top:382.90px;font-size:30px;color:#fff;right:427.90px;transform-origin:100% 50%;transform:scaleX(1.0188);-webkit-text-stroke:.45px #fff;">50.0<span class="pc">%</span></div>
<div class="t" style="top:434.52px;font-size:28.4px;color:#2e635e;right:872.10px;transform-origin:100% 50%;transform:scaleX(0.9208);">Pakistan</div>
<svg style="left:159.00px;top:426.13px;" width="46" height="46" viewBox="-23 -23 46 46"><circle r="20.5" fill="#f5f6ec"/><g clip-path="url(#fc)"><g transform="scale(.93)"><rect x="-21" y="-21" width="42" height="42" fill="#3c9a3c"/><rect x="-21" y="-21" width="9.4" height="42" fill="#ffffff"/><circle cx="7" cy="0.6" r="10.4" fill="#d4f5cf"/><circle cx="10" cy="-2.2" r="8.6" fill="#3c9a3c"/><path d="M14.26,-6.62L13.47,-4.67L15.09,-3.31L12.99,-3.46L12.20,-1.51L11.69,-3.55L9.59,-3.70L11.37,-4.81L10.86,-6.86L12.48,-5.51Z" fill="#d4f5cf"/></g></g><circle r="20.5" fill="none" stroke="#2b2a22" stroke-width="1.4"/></svg>
<div class="t s" style="top:438.96px;font-size:18.5px;color:#0b0b0b;left:17.50px;width:400px;text-align:center;transform-origin:50% 50%;transform:scaleX(0.77);-webkit-text-stroke:.8px #0b0b0b;">5</div>
<div class="t v s" style="top:437.50px;font-size:20px;color:#e9f3ef;left:243.00px;transform-origin:0 50%;transform:scaleX(0.64);">128M</div>
<div class="t v s" style="top:437.50px;font-size:20px;color:#420c11;right:58.60px;transform-origin:100% 50%;transform:scaleX(0.64);">124M</div>
<div class="t" style="top:432.48px;font-size:30px;color:#fff;right:403.50px;transform-origin:100% 50%;transform:scaleX(0.9514);-webkit-text-stroke:.45px #fff;">53.4<span class="pc">%</span></div>
<div class="t" style="top:484.09px;font-size:28.4px;color:#2e635e;right:872.10px;transform-origin:100% 50%;transform:scaleX(0.8871);">Nigeria</div>
<svg style="left:159.00px;top:475.70px;" width="46" height="46" viewBox="-23 -23 46 46"><circle r="20.5" fill="#f5f6ec"/><g clip-path="url(#fc)"><g transform="scale(.93)"><rect y="-20" x="-20.00" height="40" width="11.60" fill="#3f9a45"/><rect y="-20" x="-8.70" height="40" width="17.50" fill="#ffffff"/><rect y="-20" x="8.50" height="40" width="11.80" fill="#3f9a45"/></g></g><circle r="20.5" fill="none" stroke="#2b2a22" stroke-width="1.4"/></svg>
<div class="t s" style="top:488.54px;font-size:18.5px;color:#0b0b0b;left:17.50px;width:400px;text-align:center;transform-origin:50% 50%;transform:scaleX(0.77);-webkit-text-stroke:.8px #0b0b0b;">6</div>
<div class="t v s" style="top:487.07px;font-size:20px;color:#e9f3ef;left:243.00px;transform-origin:0 50%;transform:scaleX(0.64);">120M</div>
<div class="t v s" style="top:487.07px;font-size:20px;color:#420c11;right:58.60px;transform-origin:100% 50%;transform:scaleX(0.64);">117M</div>
<div class="t" style="top:482.05px;font-size:30px;color:#fff;right:414.10px;transform-origin:100% 50%;transform:scaleX(0.9039);-webkit-text-stroke:.45px #fff;">51.9<span class="pc">%</span></div>
<div class="t" style="top:533.67px;font-size:28.4px;color:#c4423f;right:872.10px;transform-origin:100% 50%;transform:scaleX(0.8835);">Brazil</div>
<svg style="left:159.00px;top:525.28px;" width="46" height="46" viewBox="-23 -23 46 46"><circle r="20.5" fill="#f5f6ec"/><g clip-path="url(#fc)"><g transform="scale(.93)"><rect x="-21" y="-21" width="42" height="42" fill="#3f9440"/><path d="M-16.5 0L0 -11L16.5 0L0 11Z" fill="#f3d23b"/><circle r="6.6" fill="#2f62b3"/><path d="M-6.2 -1.6Q0 -3.6 6.4 1.4" stroke="#b9d2ea" stroke-width="1.2" fill="none"/><circle cx="-2" cy="2.2" r=".6" fill="#cfe0f2"/><circle cx="1.5" cy="3.4" r=".6" fill="#cfe0f2"/><circle cx="2.6" cy="-3.3" r=".5" fill="#cfe0f2"/></g></g><circle r="20.5" fill="none" stroke="#2b2a22" stroke-width="1.4"/></svg>
<div class="t s" style="top:538.11px;font-size:18.5px;color:#0b0b0b;left:17.50px;width:400px;text-align:center;transform-origin:50% 50%;transform:scaleX(0.77);-webkit-text-stroke:.8px #0b0b0b;">7</div>
<div class="t v s" style="top:536.65px;font-size:20px;color:#e2eee8;left:243.00px;transform-origin:0 50%;transform:scaleX(0.64);">108M</div>
<div class="t v s" style="top:536.65px;font-size:20px;color:#420c11;right:58.60px;transform-origin:100% 50%;transform:scaleX(0.64);">112M</div>
<div class="t" style="top:531.62px;font-size:30px;color:#6e0f14;left:586.80px;transform-origin:0 50%;transform:scaleX(0.921);-webkit-text-stroke:.45px #6e0f14;">53.3<span class="pc">%</span></div>
<div class="t" style="top:583.24px;font-size:28.4px;color:#c4423f;right:872.10px;transform-origin:100% 50%;transform:scaleX(0.93);">Bangladesh</div>
<svg style="left:159.00px;top:574.85px;" width="46" height="46" viewBox="-23 -23 46 46"><circle r="20.5" fill="#f5f6ec"/><g clip-path="url(#fc)"><g transform="scale(.93)"><rect x="-21" y="-21" width="42" height="42" fill="#3e9342"/><circle cx="-1.6" cy="0.3" r="11.2" fill="#ef2f2d"/></g></g><circle r="20.5" fill="none" stroke="#2b2a22" stroke-width="1.4"/></svg>
<div class="t s" style="top:587.69px;font-size:18.5px;color:#0b0b0b;left:17.50px;width:400px;text-align:center;transform-origin:50% 50%;transform:scaleX(0.77);-webkit-text-stroke:.8px #0b0b0b;">8</div>
<div class="t v s" style="top:586.22px;font-size:20px;color:#e2eee8;left:243.00px;transform-origin:0 50%;transform:scaleX(0.64);">83M</div>
<div class="t v s" style="top:586.22px;font-size:20px;color:#420c11;right:58.60px;transform-origin:100% 50%;transform:scaleX(0.64);">86M</div>
<div class="t" style="top:581.20px;font-size:30px;color:#6e0f14;left:582.90px;transform-origin:0 50%;transform:scaleX(0.9395);-webkit-text-stroke:.45px #6e0f14;">53.8<span class="pc">%</span></div>
<div class="t" style="top:632.82px;font-size:28.4px;color:#c4423f;right:872.10px;transform-origin:100% 50%;transform:scaleX(0.9238);">Russia</div>
<svg style="left:159.00px;top:624.43px;" width="46" height="46" viewBox="-23 -23 46 46"><circle r="20.5" fill="#f5f6ec"/><g clip-path="url(#fc)"><g transform="scale(.93)"><rect x="-20" y="-20.00" width="40" height="14.90" fill="#ffffff"/><rect x="-20" y="-5.40" width="40" height="11.50" fill="#2f62b8"/><rect x="-20" y="5.80" width="40" height="14.50" fill="#e8312f"/></g></g><circle r="20.5" fill="none" stroke="#2b2a22" stroke-width="1.4"/></svg>
<div class="t s" style="top:637.26px;font-size:18.5px;color:#0b0b0b;left:17.50px;width:400px;text-align:center;transform-origin:50% 50%;transform:scaleX(0.77);-webkit-text-stroke:.8px #0b0b0b;">9</div>
<div class="t v s" style="top:635.80px;font-size:20px;color:#e2eee8;left:243.00px;transform-origin:0 50%;transform:scaleX(0.64);">65M</div>
<div class="t v s" style="top:635.80px;font-size:20px;color:#420c11;right:58.60px;transform-origin:100% 50%;transform:scaleX(0.64);">75M</div>
<div class="t" style="top:630.77px;font-size:30px;color:#6e0f14;left:514.90px;transform-origin:0 50%;transform:scaleX(0.9937);-webkit-text-stroke:.45px #6e0f14;">63.0<span class="pc">%</span></div>
<div class="t" style="top:682.39px;font-size:28.4px;color:#c4423f;right:872.10px;transform-origin:100% 50%;transform:scaleX(0.9304);">Mexico</div>
<svg style="left:159.00px;top:674.00px;" width="46" height="46" viewBox="-23 -23 46 46"><circle r="20.5" fill="#f5f6ec"/><g clip-path="url(#fc)"><g transform="scale(.93)"><rect y="-20" x="-20.00" height="40" width="12.00" fill="#3f9650"/><rect y="-20" x="-8.30" height="40" width="17.10" fill="#ffffff"/><rect y="-20" x="8.50" height="40" width="11.80" fill="#e0373a"/><ellipse cx="0.2" cy="0.8" rx="5.2" ry="4.8" fill="#8a7a5c"/><ellipse cx="0.8" cy="-0.4" rx="3.1" ry="2.8" fill="#4b4336"/><path d="M-4.6 2.6Q0 7.4 4.8 2.6" stroke="#6f9a63" stroke-width="1.3" fill="none"/></g></g><circle r="20.5" fill="none" stroke="#2b2a22" stroke-width="1.4"/></svg>
<div class="t s" style="top:686.84px;font-size:18.5px;color:#0b0b0b;left:17.50px;width:400px;text-align:center;transform-origin:50% 50%;transform:scaleX(0.77);-webkit-text-stroke:.8px #0b0b0b;">10</div>
<div class="t v s" style="top:685.37px;font-size:20px;color:#e2eee8;left:243.00px;transform-origin:0 50%;transform:scaleX(0.64);">64M</div>
<div class="t v s" style="top:685.37px;font-size:20px;color:#420c11;right:58.60px;transform-origin:100% 50%;transform:scaleX(0.64);">67M</div>
<div class="t" style="top:680.35px;font-size:30px;color:#6e0f14;left:578.40px;transform-origin:0 50%;transform:scaleX(0.9884);-webkit-text-stroke:.45px #6e0f14;">54.4<span class="pc">%</span></div>
<div class="t" style="top:731.97px;font-size:28.4px;color:#c4423f;right:872.10px;transform-origin:100% 50%;transform:scaleX(0.9501);">Japan</div>
<svg style="left:159.00px;top:723.58px;" width="46" height="46" viewBox="-23 -23 46 46"><circle r="20.5" fill="#f5f6ec"/><g clip-path="url(#fc)"><g transform="scale(.93)"><rect x="-21" y="-21" width="42" height="42" fill="#ffffff"/><circle cx="0" cy="0.2" r="7.7" fill="#e8282d"/></g></g><circle r="20.5" fill="none" stroke="#2b2a22" stroke-width="1.4"/></svg>
<div class="t s" style="top:736.41px;font-size:18.5px;color:#0b0b0b;left:17.50px;width:400px;text-align:center;transform-origin:50% 50%;transform:scaleX(0.77);-webkit-text-stroke:.8px #0b0b0b;">11</div>
<div class="t v s" style="top:734.95px;font-size:20px;color:#e2eee8;left:243.00px;transform-origin:0 50%;transform:scaleX(0.64);">60M</div>
<div class="t v s" style="top:734.95px;font-size:20px;color:#420c11;right:58.60px;transform-origin:100% 50%;transform:scaleX(0.64);">63M</div>
<div class="t" style="top:729.92px;font-size:30px;color:#6e0f14;left:570.10px;transform-origin:0 50%;transform:scaleX(0.921);-webkit-text-stroke:.45px #6e0f14;">55.5<span class="pc">%</span></div>
<div class="t" style="top:781.54px;font-size:28.4px;color:#c4423f;right:872.10px;transform-origin:100% 50%;transform:scaleX(0.9186);">Ethiopia</div>
<svg style="left:159.00px;top:773.15px;" width="46" height="46" viewBox="-23 -23 46 46"><circle r="20.5" fill="#f5f6ec"/><g clip-path="url(#fc)"><g transform="scale(.93)"><rect x="-20" y="-20.00" width="40" height="14.90" fill="#3b9a45"/><rect x="-20" y="-5.40" width="40" height="11.30" fill="#f2d63a"/><rect x="-20" y="5.60" width="40" height="14.70" fill="#e9312f"/><circle r="7.2" cy="0.2" fill="#2f68b1"/><path d="M0.00,-5.00L1.17,-1.41L4.95,-1.41L1.89,0.81L3.06,4.41L0.00,2.19L-3.06,4.41L-1.89,0.81L-4.95,-1.41L-1.17,-1.41Z" fill="none" stroke="#f0dc5a" stroke-width="1.1"/><circle cy="0.2" r="1.5" fill="#dfe28a"/></g></g><circle r="20.5" fill="none" stroke="#2b2a22" stroke-width="1.4"/></svg>
<div class="t s" style="top:785.99px;font-size:18.5px;color:#0b0b0b;left:17.50px;width:400px;text-align:center;transform-origin:50% 50%;transform:scaleX(0.77);-webkit-text-stroke:.8px #0b0b0b;">12</div>
<div class="t v s" style="top:784.52px;font-size:20px;color:#e2eee8;left:243.00px;transform-origin:0 50%;transform:scaleX(0.64);">59M</div>
<div class="t v s" style="top:784.52px;font-size:20px;color:#420c11;right:58.60px;transform-origin:100% 50%;transform:scaleX(0.64);">59M</div>
<div class="t" style="top:779.50px;font-size:30px;color:#6e0f14;left:605.80px;transform-origin:0 50%;transform:scaleX(0.9607);-webkit-text-stroke:.45px #6e0f14;">50.7<span class="pc">%</span></div>
<div class="t" style="top:831.12px;font-size:28.4px;color:#2e635e;right:872.10px;transform-origin:100% 50%;transform:scaleX(0.9476);">Philippines</div>
<svg style="left:159.00px;top:822.73px;" width="46" height="46" viewBox="-23 -23 46 46"><circle r="20.5" fill="#f5f6ec"/><g clip-path="url(#fc)"><g transform="scale(.93)"><rect x="-20" y="-20.00" width="40" height="20.60" fill="#2d5fb3"/><rect x="-20" y="0.30" width="40" height="20.00" fill="#e9302f"/><path d="M-20 -20L-17 -20L4 0.3L-17 20L-20 20Z" fill="#ffffff"/><path d="M-10.60,-3.90L-9.72,-1.83L-7.63,-2.67L-8.47,-0.58L-6.40,0.30L-8.47,1.18L-7.63,3.27L-9.72,2.43L-10.60,4.50L-11.48,2.43L-13.57,3.27L-12.73,1.18L-14.80,0.30L-12.73,-0.58L-13.57,-2.67L-11.48,-1.83Z" fill="#f3d34a"/></g></g><circle r="20.5" fill="none" stroke="#2b2a22" stroke-width="1.4"/></svg>
<div class="t s" style="top:835.56px;font-size:18.5px;color:#0b0b0b;left:17.50px;width:400px;text-align:center;transform-origin:50% 50%;transform:scaleX(0.77);-webkit-text-stroke:.8px #0b0b0b;">13</div>
<div class="t v s" style="top:834.10px;font-size:20px;color:#e9f3ef;left:243.00px;transform-origin:0 50%;transform:scaleX(0.64);">59M</div>
<div class="t v s" style="top:834.10px;font-size:20px;color:#420c11;right:58.60px;transform-origin:100% 50%;transform:scaleX(0.64);">59M</div>
<div class="t" style="top:829.08px;font-size:30px;color:#fff;right:425.90px;transform-origin:100% 50%;transform:scaleX(0.9739);-webkit-text-stroke:.45px #fff;">50.3<span class="pc">%</span></div>
<div class="t" style="top:880.69px;font-size:28.4px;color:#c4423f;right:872.10px;transform-origin:100% 50%;transform:scaleX(0.8532);">DRC</div>
<svg style="left:159.00px;top:872.30px;" width="46" height="46" viewBox="-23 -23 46 46"><circle r="20.5" fill="#f5f6ec"/><g clip-path="url(#fc)"><g transform="scale(.93)"><rect x="-21" y="-21" width="42" height="42" fill="#3f9be0"/><path d="M-24 4.2L24 -12.6L24 -3.2L-24 13.6Z" fill="#f6e0a0"/><path d="M-24 5.8L24 -11L24 -4.8L-24 12Z" fill="#e33a2c"/><path d="M-10.80,-12.90L-9.97,-10.34L-7.28,-10.34L-9.46,-8.76L-8.63,-6.21L-10.80,-7.79L-12.97,-6.21L-12.14,-8.76L-14.32,-10.34L-11.63,-10.34Z" fill="#e8f0f7"/></g></g><circle r="20.5" fill="none" stroke="#2b2a22" stroke-width="1.4"/></svg>
<div class="t s" style="top:885.14px;font-size:18.5px;color:#0b0b0b;left:17.50px;width:400px;text-align:center;transform-origin:50% 50%;transform:scaleX(0.77);-webkit-text-stroke:.8px #0b0b0b;">14</div>
<div class="t v s" style="top:883.67px;font-size:20px;color:#e2eee8;left:243.00px;transform-origin:0 50%;transform:scaleX(0.64);">58M</div>
<div class="t v s" style="top:883.67px;font-size:20px;color:#420c11;right:58.60px;transform-origin:100% 50%;transform:scaleX(0.64);">58M</div>
<div class="t" style="top:878.65px;font-size:30px;color:#6e0f14;left:611.10px;transform-origin:0 50%;transform:scaleX(1.0069);-webkit-text-stroke:.45px #6e0f14;">50.0<span class="pc">%</span></div>
<div class="t" style="top:930.27px;font-size:28.4px;color:#2e635e;right:872.10px;transform-origin:100% 50%;transform:scaleX(0.8896);">Egypt</div>
<svg style="left:159.00px;top:921.88px;" width="46" height="46" viewBox="-23 -23 46 46"><circle r="20.5" fill="#f5f6ec"/><g clip-path="url(#fc)"><g transform="scale(.93)"><rect x="-20" y="-20.00" width="40" height="14.10" fill="#e3302f"/><rect x="-20" y="-6.20" width="40" height="12.30" fill="#ffffff"/><rect x="-20" y="5.80" width="40" height="14.50" fill="#1d1d1f"/><path d="M-2.6 -3.9H2.6V3.2H-2.6Z" fill="#e8c34a"/><rect x="-0.5" y="-2.8" width="1" height="4.6" fill="#fff6d0"/></g></g><circle r="20.5" fill="none" stroke="#2b2a22" stroke-width="1.4"/></svg>
<div class="t s" style="top:934.71px;font-size:18.5px;color:#0b0b0b;left:17.50px;width:400px;text-align:center;transform-origin:50% 50%;transform:scaleX(0.77);-webkit-text-stroke:.8px #0b0b0b;">15</div>
<div class="t v s" style="top:933.25px;font-size:20px;color:#e9f3ef;left:243.00px;transform-origin:0 50%;transform:scaleX(0.64);">57M</div>
<div class="t v s" style="top:933.25px;font-size:20px;color:#420c11;right:58.60px;transform-origin:100% 50%;transform:scaleX(0.64);">54M</div>
<div class="t" style="top:928.23px;font-size:30px;color:#fff;right:388.60px;transform-origin:100% 50%;transform:scaleX(0.9316);-webkit-text-stroke:.45px #fff;">55.3<span class="pc">%</span></div>
<div class="t" style="top:979.84px;font-size:28.4px;color:#2e635e;right:872.10px;transform-origin:100% 50%;transform:scaleX(0.9316);">Vietnam</div>
<svg style="left:159.00px;top:971.45px;" width="46" height="46" viewBox="-23 -23 46 46"><circle r="20.5" fill="#f5f6ec"/><g clip-path="url(#fc)"><g transform="scale(.93)"><rect x="-21" y="-21" width="42" height="42" fill="#e92f2c"/><path d="M0.00,-8.60L2.11,-2.11L8.94,-2.10L3.42,1.91L5.53,8.40L0.00,4.39L-5.53,8.40L-3.42,1.91L-8.94,-2.10L-2.11,-2.11Z" fill="#f6c640"/></g></g><circle r="20.5" fill="none" stroke="#2b2a22" stroke-width="1.4"/></svg>
<div class="t s" style="top:984.29px;font-size:18.5px;color:#0b0b0b;left:17.50px;width:400px;text-align:center;transform-origin:50% 50%;transform:scaleX(0.77);-webkit-text-stroke:.8px #0b0b0b;">16</div>
<div class="t v s" style="top:982.82px;font-size:20px;color:#e9f3ef;left:243.00px;transform-origin:0 50%;transform:scaleX(0.64);">53M</div>
<div class="t v s" style="top:982.82px;font-size:20px;color:#420c11;right:58.60px;transform-origin:100% 50%;transform:scaleX(0.64);">53M</div>
<div class="t" style="top:977.80px;font-size:30px;color:#fff;right:421.40px;transform-origin:100% 50%;transform:scaleX(0.9937);-webkit-text-stroke:.45px #fff;">50.9<span class="pc">%</span></div>
<div class="t" style="top:1029.41px;font-size:28.4px;color:#2e635e;right:872.10px;transform-origin:100% 50%;transform:scaleX(0.8711);">Iran</div>
<svg style="left:159.00px;top:1021.03px;" width="46" height="46" viewBox="-23 -23 46 46"><circle r="20.5" fill="#f5f6ec"/><g clip-path="url(#fc)"><g transform="scale(.93)"><rect x="-20" y="-20.00" width="40" height="14.00" fill="#3f9a4a"/><rect x="-20" y="-6.30" width="40" height="13.20" fill="#ffffff"/><rect x="-20" y="6.60" width="40" height="13.70" fill="#e33335"/><path d="M-2.6 -3.4Q-4.6 0.6 -1.6 3.4M2.6 -3.4Q4.6 0.6 1.6 3.4M-1.1 -3.6Q-2 0 -0.6 3M1.1 -3.6Q2 0 0.6 3" stroke="#d5393b" stroke-width="0.95" fill="none"/><rect x="-0.45" y="-4.6" width="0.9" height="8.6" fill="#d5393b"/></g></g><circle r="20.5" fill="none" stroke="#2b2a22" stroke-width="1.4"/></svg>
<div class="t s" style="top:1033.86px;font-size:18.5px;color:#0b0b0b;left:17.50px;width:400px;text-align:center;transform-origin:50% 50%;transform:scaleX(0.77);-webkit-text-stroke:.8px #0b0b0b;">17</div>
<div class="t v s" style="top:1032.39px;font-size:20px;color:#e9f3ef;left:243.00px;transform-origin:0 50%;transform:scaleX(0.64);">45M</div>
<div class="t v s" style="top:1032.39px;font-size:20px;color:#420c11;right:58.60px;transform-origin:100% 50%;transform:scaleX(0.64);">44M</div>
<div class="t" style="top:1027.38px;font-size:30px;color:#fff;right:408.20px;transform-origin:100% 50%;transform:scaleX(0.929);-webkit-text-stroke:.45px #fff;">52.7<span class="pc">%</span></div>
<div class="t" style="top:1078.99px;font-size:28.4px;color:#2e635e;right:872.10px;transform-origin:100% 50%;transform:scaleX(0.9031);">Türkiye</div>
<svg style="left:159.00px;top:1070.60px;" width="46" height="46" viewBox="-23 -23 46 46"><circle r="20.5" fill="#f5f6ec"/><g clip-path="url(#fc)"><g transform="scale(.93)"><rect x="-21" y="-21" width="42" height="42" fill="#e52b2e"/><circle cx="-6.6" cy="2.4" r="9.6" fill="#ffffff"/><circle cx="-3.9" cy="2.4" r="7.7" fill="#e52b2e"/><path d="M6.54,1.28L4.60,2.69L5.34,4.97L3.40,3.56L1.46,4.97L2.20,2.69L0.26,1.28L2.66,1.28L3.40,-1.00L4.14,1.28Z" fill="#ffffff"/></g></g><circle r="20.5" fill="none" stroke="#2b2a22" stroke-width="1.4"/></svg>
<div class="t s" style="top:1083.44px;font-size:18.5px;color:#0b0b0b;left:17.50px;width:400px;text-align:center;transform-origin:50% 50%;transform:scaleX(0.77);-webkit-text-stroke:.8px #0b0b0b;">18</div>
<div class="t v s" style="top:1081.97px;font-size:20px;color:#e9f3ef;left:243.00px;transform-origin:0 50%;transform:scaleX(0.64);">42M</div>
<div class="t v s" style="top:1081.97px;font-size:20px;color:#420c11;right:58.60px;transform-origin:100% 50%;transform:scaleX(0.64);">42M</div>
<div class="t" style="top:1076.95px;font-size:30px;color:#fff;right:421.40px;transform-origin:100% 50%;transform:scaleX(0.9937);-webkit-text-stroke:.45px #fff;">50.9<span class="pc">%</span></div>
<div class="t" style="top:1128.56px;font-size:28.4px;color:#c4423f;right:872.10px;transform-origin:100% 50%;transform:scaleX(0.9079);">Germany</div>
<svg style="left:159.00px;top:1120.17px;" width="46" height="46" viewBox="-23 -23 46 46"><circle r="20.5" fill="#f5f6ec"/><g clip-path="url(#fc)"><g transform="scale(.93)"><rect x="-20" y="-20.00" width="40" height="14.30" fill="#262425"/><rect x="-20" y="-6.00" width="40" height="12.50" fill="#e62f2c"/><rect x="-20" y="6.20" width="40" height="14.10" fill="#f3cf3a"/></g></g><circle r="20.5" fill="none" stroke="#2b2a22" stroke-width="1.4"/></svg>
<div class="t s" style="top:1133.01px;font-size:18.5px;color:#0b0b0b;left:17.50px;width:400px;text-align:center;transform-origin:50% 50%;transform:scaleX(0.77);-webkit-text-stroke:.8px #0b0b0b;">19</div>
<div class="t v s" style="top:1131.54px;font-size:20px;color:#e2eee8;left:243.00px;transform-origin:0 50%;transform:scaleX(0.64);">42M</div>
<div class="t v s" style="top:1131.54px;font-size:20px;color:#420c11;right:58.60px;transform-origin:100% 50%;transform:scaleX(0.64);">43M</div>
<div class="t" style="top:1126.53px;font-size:30px;color:#6e0f14;left:594.10px;transform-origin:0 50%;transform:scaleX(0.9343);-webkit-text-stroke:.45px #6e0f14;">52.3<span class="pc">%</span></div>
<div class="t" style="top:1178.14px;font-size:28.4px;color:#c4423f;right:872.10px;transform-origin:100% 50%;transform:scaleX(0.9134);">Thailand</div>
<svg style="left:159.00px;top:1169.75px;" width="46" height="46" viewBox="-23 -23 46 46"><circle r="20.5" fill="#f5f6ec"/><g clip-path="url(#fc)"><g transform="scale(.93)"><rect x="-20" y="-20.00" width="40" height="8.00" fill="#e0363a"/><rect x="-20" y="-12.30" width="40" height="6.80" fill="#ffffff"/><rect x="-20" y="-5.80" width="40" height="12.30" fill="#2a5fae"/><rect x="-20" y="6.20" width="40" height="6.70" fill="#ffffff"/><rect x="-20" y="12.60" width="40" height="7.70" fill="#e0363a"/></g></g><circle r="20.5" fill="none" stroke="#2b2a22" stroke-width="1.4"/></svg>
<div class="t s" style="top:1182.59px;font-size:18.5px;color:#0b0b0b;left:17.50px;width:400px;text-align:center;transform-origin:50% 50%;transform:scaleX(0.77);-webkit-text-stroke:.8px #0b0b0b;">20</div>
<div class="t v s" style="top:1181.12px;font-size:20px;color:#e2eee8;left:243.00px;transform-origin:0 50%;transform:scaleX(0.64);">34M</div>
<div class="t v s" style="top:1181.12px;font-size:20px;color:#420c11;right:58.60px;transform-origin:100% 50%;transform:scaleX(0.64);">36M</div>
<div class="t" style="top:1176.10px;font-size:30px;color:#6e0f14;left:574.60px;transform-origin:0 50%;transform:scaleX(0.9528);-webkit-text-stroke:.45px #6e0f14;">55.0<span class="pc">%</span></div>
<div class="t" style="top:236.99px;font-size:21.5px;color:#fff;right:502.20px;transform-origin:100% 50%;">Majority Male</div>
<div class="t" style="top:336.79px;font-size:21.5px;color:#6e0f14;left:692.50px;transform-origin:0 50%;transform:scaleX(1.018);">Majority Female</div>
<div class="t n s" style="top:391.28px;font-size:15.5px;color:#f8ddd6;font-weight:400;font-style:italic;left:627.40px;transform-origin:0 50%;transform:scaleX(0.9);">Majority male by a tiny margin of 38K men</div>
<div class="t n s" style="top:886.08px;font-size:15.5px;color:#17302f;font-weight:400;font-style:italic;left:292.20px;transform-origin:0 50%;transform:scaleX(0.89);">Majority female by a tiny margin of 27K women</div>
<svg width="1024" height="1280" viewBox="0 0 1024 1280"><path d="M531.3 245.4V255L537.3 250.2Z" fill="#fff"/><path d="M683.8 344.4V354L677.8 349.2Z" fill="#6e0f14"/><path d="M618.4 394.8V404.4L612.6 399.6Z" fill="#f8ddd6"/><path d="M588 889.6V899.2L594.4 894.4Z" fill="#17302f"/></svg>
<svg style="left:24px;top:1224px;" width="60" height="46" viewBox="0 0 60 46"><g fill="none" stroke="#0b0b0b" stroke-width="1.7"><circle cx="17.1" cy="26.6" r="10.7"/><circle cx="37.4" cy="26.6" r="10.6"/></g><path d="M9.6 18.6C11.4 14.2 13.4 11.4 15.4 9.9C17.6 8.2 20.4 7.6 23 8C24.8 8.3 26.2 9 27.2 9.8C28.2 9 29.6 8.3 31.4 8C34 7.6 36.8 8.2 39 9.9C41 11.4 43 14.2 44.9 18.6C42.6 16.8 40.2 16 37.4 16C33.4 16 30 18.2 27.3 21.6C24.5 18.2 21.1 16 17.1 16C14.3 16 11.9 16.8 9.6 18.6Z" fill="#0b0b0b"/><path d="M12.6 30C13.2 31 13.8 31.5 14.6 31.4C15.2 31.3 15.8 30.8 16.1 30.2C16.4 28.2 17.4 26.4 18.8 25C20.6 23.2 23 22.3 25.4 22.2C27.4 22.1 29.4 22.3 31 22.7L32.2 21.7C32.8 21.3 33.5 21.4 33.8 21.9C34 22.4 33.9 23 33.8 23.6C35 24.4 36 25.4 37 26.6C38 27.8 39.4 28.6 41 29.3C41.4 30 41.4 30.9 41 31.7C40.7 32.6 40.2 33.3 39.6 33.8C38.9 34.3 38.2 34.4 37.5 34.6C37 35.4 36.4 36 35.6 36.5C34.7 37.1 33.7 37.4 32.6 37.5C30.4 37.6 28.4 36.6 27.2 35.2C26 36.6 24.2 37.5 22.2 37.6C20.6 37.7 19 37.7 17.8 37.4C17 36.6 16.5 35.8 16.4 35C16.3 34.2 16.4 33.5 16.4 32.8C15.4 33 14.4 32.8 13.6 32.2C12.9 31.7 12.6 30.8 12.6 30Z" fill="#0b0b0b"/></svg>
<div class="t s" style="top:1238.28px;font-size:19.4px;color:#0b0b0b;letter-spacing:2.8px;left:85.30px;transform-origin:0 50%;-webkit-text-stroke:.7px #0b0b0b;">VISUAL CAPITALIST</div>
<div class="t n s" style="top:1242.60px;font-size:15px;color:#1a1a1a;font-weight:400;font-style:italic;right:33.40px;transform-origin:100% 50%;transform:scaleX(0.705);">Figures as of 2024. Source: The World Factbook</div>
</body></html>
